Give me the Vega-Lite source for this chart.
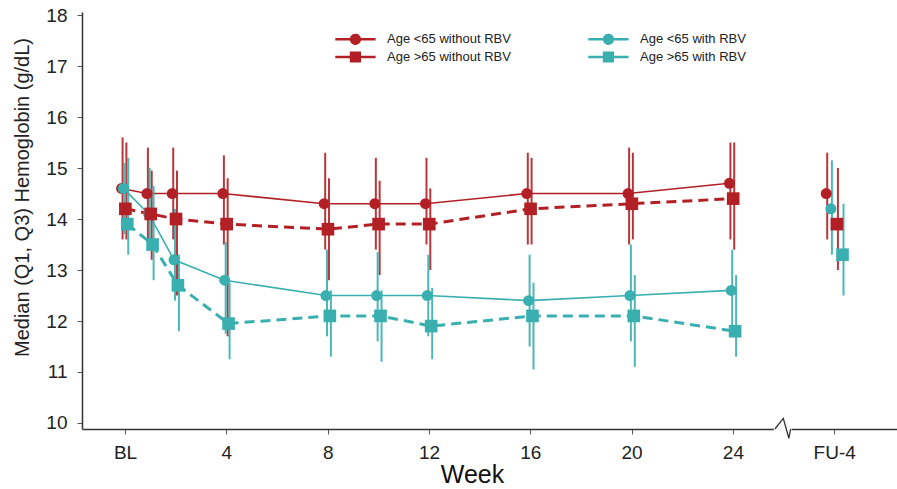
{
  "$schema": "https://vega.github.io/schema/vega-lite/v6.json",
  "width": 815,
  "height": 417,
  "autosize": {"type": "none"},
  "padding": {"left": 82, "top": 12, "right": 0, "bottom": 60},
  "background": "white",
  "config": {"view": {"stroke": null}, "font": "Liberation Sans"},
  "datasets": {
    "hb": [
      {"series": "Age <65 without RBV", "week": 0, "median": 14.6, "q1": 13.6, "q3": 15.6},
      {"series": "Age <65 without RBV", "week": 1, "median": 14.5, "q1": 13.5, "q3": 15.4},
      {"series": "Age <65 without RBV", "week": 2, "median": 14.5, "q1": 13.6, "q3": 15.4},
      {"series": "Age <65 without RBV", "week": 4, "median": 14.5, "q1": 13.5, "q3": 15.25},
      {"series": "Age <65 without RBV", "week": 8, "median": 14.3, "q1": 13.4, "q3": 15.3},
      {"series": "Age <65 without RBV", "week": 10, "median": 14.3, "q1": 13.4, "q3": 15.2},
      {"series": "Age <65 without RBV", "week": 12, "median": 14.3, "q1": 13.5, "q3": 15.2},
      {"series": "Age <65 without RBV", "week": 16, "median": 14.5, "q1": 13.5, "q3": 15.3},
      {"series": "Age <65 without RBV", "week": 20, "median": 14.5, "q1": 13.5, "q3": 15.4},
      {"series": "Age <65 without RBV", "week": 24, "median": 14.7, "q1": 13.6, "q3": 15.5},
      {"series": "Age <65 without RBV", "week": 28, "median": 14.5, "q1": 13.6, "q3": 15.3},
      {"series": "Age >65 without RBV", "week": 0, "median": 14.2, "q1": 13.6, "q3": 15.5},
      {"series": "Age >65 without RBV", "week": 1, "median": 14.1, "q1": 13.2, "q3": 14.95},
      {"series": "Age >65 without RBV", "week": 2, "median": 14.0, "q1": 12.5, "q3": 14.95},
      {"series": "Age >65 without RBV", "week": 4, "median": 13.9, "q1": 11.7, "q3": 14.8},
      {"series": "Age >65 without RBV", "week": 8, "median": 13.8, "q1": 12.8, "q3": 14.8},
      {"series": "Age >65 without RBV", "week": 10, "median": 13.9, "q1": 12.9, "q3": 14.75},
      {"series": "Age >65 without RBV", "week": 12, "median": 13.9, "q1": 13.0, "q3": 14.6},
      {"series": "Age >65 without RBV", "week": 16, "median": 14.2, "q1": 13.5, "q3": 15.2},
      {"series": "Age >65 without RBV", "week": 20, "median": 14.3, "q1": 13.6, "q3": 15.3},
      {"series": "Age >65 without RBV", "week": 24, "median": 14.4, "q1": 13.4, "q3": 15.5},
      {"series": "Age >65 without RBV", "week": 28, "median": 13.9, "q1": 13.0, "q3": 15.0},
      {"series": "Age <65 with RBV", "week": 0, "median": 14.6, "q1": 13.7, "q3": 15.1},
      {"series": "Age <65 with RBV", "week": 1, "median": 14.1, "q1": 13.4, "q3": 15.0},
      {"series": "Age <65 with RBV", "week": 2, "median": 13.2, "q1": 12.4, "q3": 14.2},
      {"series": "Age <65 with RBV", "week": 4, "median": 12.8, "q1": 11.75, "q3": 13.55},
      {"series": "Age <65 with RBV", "week": 8, "median": 12.5, "q1": 11.7, "q3": 13.4},
      {"series": "Age <65 with RBV", "week": 10, "median": 12.5, "q1": 11.6, "q3": 13.35},
      {"series": "Age <65 with RBV", "week": 12, "median": 12.5, "q1": 11.7, "q3": 13.3},
      {"series": "Age <65 with RBV", "week": 16, "median": 12.4, "q1": 11.5, "q3": 13.3},
      {"series": "Age <65 with RBV", "week": 20, "median": 12.5, "q1": 11.6, "q3": 13.5},
      {"series": "Age <65 with RBV", "week": 24, "median": 12.6, "q1": 11.9, "q3": 13.4},
      {"series": "Age <65 with RBV", "week": 28, "median": 14.2, "q1": 13.3, "q3": 15.15},
      {"series": "Age >65 with RBV", "week": 0, "median": 13.9, "q1": 13.3, "q3": 15.2},
      {"series": "Age >65 with RBV", "week": 1, "median": 13.5, "q1": 12.8, "q3": 14.65},
      {"series": "Age >65 with RBV", "week": 2, "median": 12.7, "q1": 11.8, "q3": 13.3},
      {"series": "Age >65 with RBV", "week": 4, "median": 11.95, "q1": 11.25, "q3": 12.75},
      {"series": "Age >65 with RBV", "week": 8, "median": 12.1, "q1": 11.3, "q3": 12.6},
      {"series": "Age >65 with RBV", "week": 10, "median": 12.1, "q1": 11.2, "q3": 12.6},
      {"series": "Age >65 with RBV", "week": 12, "median": 11.9, "q1": 11.25, "q3": 12.65},
      {"series": "Age >65 with RBV", "week": 16, "median": 12.1, "q1": 11.05, "q3": 12.75},
      {"series": "Age >65 with RBV", "week": 20, "median": 12.1, "q1": 11.1, "q3": 12.9},
      {"series": "Age >65 with RBV", "week": 24, "median": 11.8, "q1": 11.3, "q3": 12.9},
      {"series": "Age >65 with RBV", "week": 28, "median": 13.3, "q1": 12.5, "q3": 14.3}
    ],
    "brk": [
      {"bx": 25.66, "by": 9.882},
      {"bx": 25.99, "by": 10.09},
      {"bx": 26.21, "by": 9.70},
      {"bx": 26.28, "by": 9.882}
    ],
    "mask": [
      {"bx": 25.62, "bx2": 26.32, "by": 9.882}
    ]
  },
  "data": {"name": "hb"},
  "encoding": {
    "x": {
      "field": "xd", "type": "quantitative",
      "scale": {"domain": [-1.7, 30.48], "nice": false, "zero": false},
      "axis": {
        "values": [0, 4, 8, 12, 16, 20, 24, 28],
        "labelExpr": "datum.value == 0 ? 'BL' : (datum.value == 28 ? 'FU-4' : datum.label)",
        "grid": false, "domainColor": "#333", "domainWidth": 1.5,
        "tickColor": "#555", "tickSize": 5, "tickWidth": 1,
        "labelFontSize": 19, "labelColor": "#222", "labelPadding": 9, "labelFont": "Liberation Sans",
        "title": "Week", "titleFontSize": 25, "titleFontWeight": "normal", "titleColor": "#111", "titleFont": "Liberation Sans",
        "titleX": 390, "titleAlign": "center", "titlePadding": 0
      }
    },
    "y": {
      "field": "median", "type": "quantitative",
      "scale": {"domain": [9.882, 18.06], "nice": false, "zero": false},
      "axis": {
        "values": [10, 11, 12, 13, 14, 15, 16, 17, 18],
        "grid": false, "domainColor": "#333", "domainWidth": 1.5,
        "tickColor": "#555", "tickSize": 5, "tickWidth": 1,
        "labelFontSize": 19, "labelColor": "#222", "labelPadding": 10, "labelFont": "Liberation Sans",
        "title": "Median (Q1, Q3) Hemoglobin (g/dL)", "titleFontSize": 20, "titleFontWeight": "normal", "titleColor": "#222", "titleFont": "Liberation Sans",
        "titleX": -60, "titleY": 185, "titleBaseline": "middle", "titleAlign": "center"
      }
    },
    "color": {
      "field": "series", "type": "nominal",
      "scale": {
        "domain": ["Age <65 without RBV", "Age >65 without RBV", "Age <65 with RBV", "Age >65 with RBV"],
        "range": ["#B22025", "#B22025", "#3AAFAF", "#3AAFAF"]
      },
      "legend": {
        "orient": "none", "legendX": 252, "legendY": 19, "columns": 2, "columnPadding": 72, "rowPadding": -2,
        "title": null, "labelFontSize": 13, "labelColor": "#222", "labelFont": "Liberation Sans", "labelOffset": 37,
        "symbolSize": 180, "symbolStrokeWidth": 2.5, "padding": 0,
        "encode": {
          "symbols": {
            "update": {
              "shape": {"signal": "indexof(datum.label, '<65') >= 0 ? 'M-1,0H5M2.65,0A0.65,0.65,0,1,1,1.35,0A0.65,0.65,0,1,1,2.65,0Z' : 'M-1,0H5M1.35,-0.65H2.65V0.65H1.35Z'"},
              "fill": {"scale": "color", "field": "value"},
              "stroke": {"scale": "color", "field": "value"},
              "strokeDash": {"value": [1, 0]},
              "opacity": {"value": 1}
            }
          }
        }
      }
    }
  },
  "layer": [
    {
      "transform": [
        {"filter": "datum.week <= 24 && indexof(datum.series, '<65') >= 0"},
        {"calculate": "datum.week + (datum.week == 28 ? (datum.series == 'Age <65 without RBV' ? -0.316 : datum.series == 'Age <65 with RBV' ? -0.13 : datum.series == 'Age >65 without RBV' ? 0.107 : 0.328) : (datum.series == 'Age <65 without RBV' ? -0.138 : datum.series == 'Age <65 with RBV' ? -0.067 : datum.series == 'Age >65 without RBV' ? 0.012 : 0.087))", "as": "xd"}
      ],
      "mark": {"type": "line", "strokeWidth": 1.6}
    },
    {
      "transform": [
        {"filter": "datum.week <= 24 && indexof(datum.series, '>65') >= 0"},
        {"calculate": "datum.week + (datum.week == 28 ? (datum.series == 'Age <65 without RBV' ? -0.316 : datum.series == 'Age <65 with RBV' ? -0.13 : datum.series == 'Age >65 without RBV' ? 0.107 : 0.328) : (datum.series == 'Age <65 without RBV' ? -0.138 : datum.series == 'Age <65 with RBV' ? -0.067 : datum.series == 'Age >65 without RBV' ? 0.012 : 0.087))", "as": "xd"}
      ],
      "mark": {"type": "line", "strokeWidth": 3, "strokeDash": [10, 6]}
    },
    {
      "transform": [
        {"calculate": "datum.week + 0.04 + (datum.week == 28 ? (datum.series == 'Age <65 without RBV' ? -0.316 : datum.series == 'Age <65 with RBV' ? -0.13 : datum.series == 'Age >65 without RBV' ? 0.107 : 0.328) : (datum.series == 'Age <65 without RBV' ? -0.138 : datum.series == 'Age <65 with RBV' ? -0.067 : datum.series == 'Age >65 without RBV' ? 0.012 : 0.087))", "as": "xd"}
      ],
      "mark": {"type": "rule", "strokeWidth": 2, "opacity": 0.9},
      "encoding": {
        "y": {"field": "q1", "type": "quantitative"},
        "y2": {"field": "q3"}
      }
    },
    {
      "transform": [
        {"filter": "indexof(datum.series, '<65') >= 0"},
        {"calculate": "datum.week + (datum.week == 28 ? (datum.series == 'Age <65 without RBV' ? -0.316 : datum.series == 'Age <65 with RBV' ? -0.13 : datum.series == 'Age >65 without RBV' ? 0.107 : 0.328) : (datum.series == 'Age <65 without RBV' ? -0.138 : datum.series == 'Age <65 with RBV' ? -0.067 : datum.series == 'Age >65 without RBV' ? 0.012 : 0.087))", "as": "xd"}
      ],
      "mark": {"type": "point", "filled": true, "opacity": 1, "shape": "circle", "size": 120}
    },
    {
      "transform": [
        {"filter": "indexof(datum.series, '>65') >= 0"},
        {"calculate": "datum.week + (datum.week == 28 ? (datum.series == 'Age <65 without RBV' ? -0.316 : datum.series == 'Age <65 with RBV' ? -0.13 : datum.series == 'Age >65 without RBV' ? 0.107 : 0.328) : (datum.series == 'Age <65 without RBV' ? -0.138 : datum.series == 'Age <65 with RBV' ? -0.067 : datum.series == 'Age >65 without RBV' ? 0.012 : 0.087))", "as": "xd"}
      ],
      "mark": {"type": "point", "filled": true, "opacity": 1, "shape": "square", "size": 160}
    },
    {
      "data": {"name": "mask"},
      "mark": {"type": "rule", "strokeWidth": 4},
      "encoding": {
        "x": {"field": "bx", "type": "quantitative"},
        "x2": {"field": "bx2"},
        "y": {"field": "by", "type": "quantitative"},
        "color": {"value": "white"}
      }
    },
    {
      "data": {"name": "brk"},
      "mark": {"type": "line", "strokeWidth": 1.3, "clip": false},
      "encoding": {
        "x": {"field": "bx", "type": "quantitative"},
        "y": {"field": "by", "type": "quantitative"},
        "color": {"value": "#333"}
      }
    }
  ]
}
